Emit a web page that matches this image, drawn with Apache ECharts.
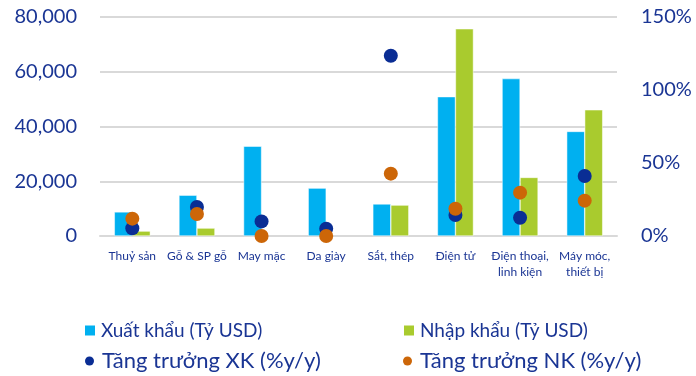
<!DOCTYPE html>
<html><head><meta charset="utf-8">
<script src="https://cdn.jsdelivr.net/npm/echarts@6/dist/echarts.min.js"></script>
<style>html,body{margin:0;padding:0;background:#fff}#c{width:696px;height:376px}</style>
</head><body><div id="c"></div>
<script>
const categories = ["Thuỷ sản","Gỗ & SP gỗ","May mặc","Da giày","Sắt, thép","Điện tử","Điện thoại,\nlinh kiện","Máy móc,\nthiết bị"];
const exportValues = [8800, 14900, 32800, 17500, 11700, 50900, 57500, 38200];
const importValues = [1800, 2900, null, null, 11300, 75700, 21400, 46100];
const exportGrowth = [5.3, 19.9, 10.0, 5.0, 123.5, 14.4, 12.5, 41.1];
const importGrowth = [11.9, 15.1, 0, 0, 42.7, 18.7, 29.7, 24.2];
const leftTicks = [0, 20000, 40000, 60000, 80000];
const rightTicks = [0, 50, 100, 150];
const names = ["Xuất khẩu (Tỷ USD)","Nhập khẩu (Tỷ USD)","Tăng trưởng XK (%y/y)","Tăng trưởng NK (%y/y)"];

const navy = '#1a3594';
const font = 'Lato';
const chart = echarts.init(document.getElementById('c'));
function leg(name, left, top, size, icon, isz, gap) {
  return {data:[{name:name, icon:icon}], left:left, top:top, itemWidth:isz, itemHeight:isz, itemGap:gap,
    textStyle:{fontFamily:font, fontSize:size, color:navy, padding:[0,0,0,gap-5]}, selectedMode:false, padding:0};
}
chart.setOption({
  animation:false,
  textStyle:{fontFamily:font},
  grid:{left:100, right:79, top:17, bottom:140},
  legend:[
    leg(names[0], 83, 321, 19, 'rect', 12, 5),
    leg(names[1], 402, 321, 19, 'rect', 12, 5),
    leg(names[2], 85, 350, 22, 'circle', 9, 8),
    leg(names[3], 403, 350, 22, 'circle', 9, 8)
  ],
  xAxis:{type:'category', data:categories,
    axisLine:{lineStyle:{color:'#d9d9d9', width:2}}, axisTick:{show:false},
    axisLabel:{color:navy, fontSize:12, fontFamily:font, interval:0, margin:12, lineHeight:16}},
  yAxis:[
    {type:'value', min:0, max:80000, interval:20000,
     axisLabel:{color:navy, fontSize:20, fontFamily:font, margin:23,
       formatter:v=>leftTicks.includes(v)?v.toLocaleString('en-US'):''},
     splitLine:{lineStyle:{color:'#d9d9d9', width:2}}},
    {type:'value', min:0, max:150, interval:50, position:'right',
     axisLabel:{color:navy, fontSize:20, fontFamily:font, margin:24,
       formatter:v=>rightTicks.includes(v)?v+'%':''},
     splitLine:{show:false}}
  ],
  series:[
    {name:names[0], type:'bar', data:exportValues, barWidth:18, barGap:'0%',
     itemStyle:{color:'#00b0f0', borderColor:'#ffffff', borderWidth:0.5}},
    {name:names[1], type:'bar', data:importValues, barWidth:18,
     itemStyle:{color:'#a9cb2e', borderColor:'#ffffff', borderWidth:0.5}},
    {name:names[2], type:'scatter', yAxisIndex:1, data:exportGrowth, symbolSize:14,
     itemStyle:{color:'#0a2d94', opacity:1}, z:5},
    {name:names[3], type:'scatter', yAxisIndex:1, data:importGrowth, symbolSize:14,
     itemStyle:{color:'#cc6608', opacity:1}, z:6}
  ]
});
</script></body></html>
